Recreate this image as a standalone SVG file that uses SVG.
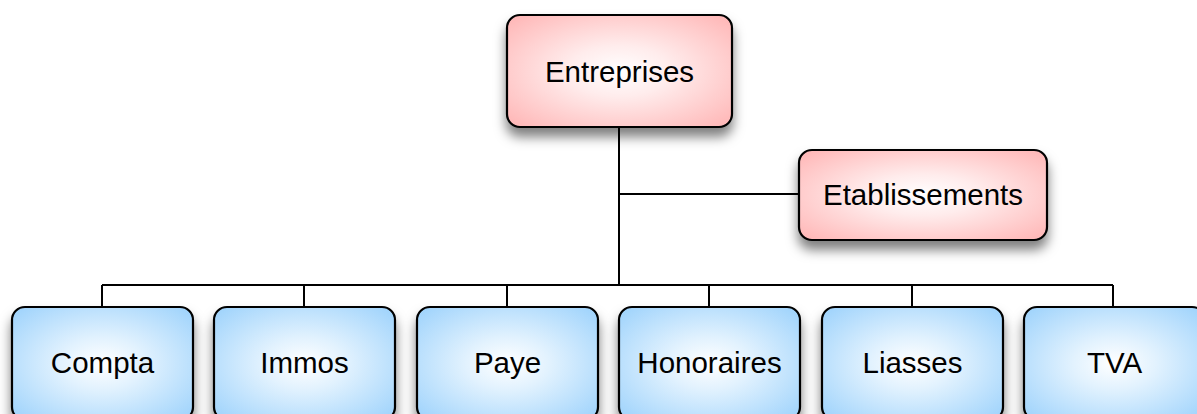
<svg xmlns="http://www.w3.org/2000/svg" width="1197" height="414" viewBox="0 0 1197 414">
<style>
.box{stroke:#000;stroke-width:2.2;filter:url(#sh)}
.pink{fill:url(#gp)}
.blue{fill:url(#gb)}
.lbl{font-family:"Liberation Sans",Arial,sans-serif;font-size:29.5px;fill:#000;text-anchor:middle}
.conn{stroke:#000;stroke-width:2;fill:none}
</style>
<defs>
<radialGradient id="gp" cx="0.5" cy="0.5" r="0.65">
<stop offset="0" stop-color="#ffffff"/>
<stop offset="0.35" stop-color="#ffecec"/>
<stop offset="1" stop-color="#ffbaba"/>
</radialGradient>
<radialGradient id="gb" cx="0.5" cy="0.5" r="0.65">
<stop offset="0" stop-color="#ffffff"/>
<stop offset="0.35" stop-color="#e2f2fe"/>
<stop offset="1" stop-color="#a3d5fc"/>
</radialGradient>
<filter id="sh" x="-20%" y="-20%" width="140%" height="160%">
<feDropShadow dx="0" dy="9" stdDeviation="6" flood-color="#000" flood-opacity="0.5"/>
</filter>
</defs>
<g id="connectors">
<path class="conn" d="M619 127V285M619 194H799M102 285H1113M102 285V307M304 285V307M507 285V307M709 285V307M912 285V307M1113 285V307"/>
</g>
<g id="entreprises"><rect class="box pink" x="507" y="15" width="225" height="112" rx="13"/><text class="lbl" x="619.5" y="81.5">Entreprises</text></g>
<g id="etablissements"><rect class="box pink" x="799" y="150" width="248" height="90" rx="13"/><text class="lbl" x="923" y="204.5">Etablissements</text></g>
<g id="compta"><rect class="box blue" x="12" y="307" width="181" height="113" rx="13"/><text class="lbl" x="102.5" y="372.5">Compta</text></g>
<g id="immos"><rect class="box blue" x="214" y="307" width="181" height="113" rx="13"/><text class="lbl" x="304.5" y="372.5">Immos</text></g>
<g id="paye"><rect class="box blue" x="417" y="307" width="181" height="113" rx="13"/><text class="lbl" x="507.5" y="372.5">Paye</text></g>
<g id="honoraires"><rect class="box blue" x="619" y="307" width="181" height="113" rx="13"/><text class="lbl" x="709.5" y="372.5">Honoraires</text></g>
<g id="liasses"><rect class="box blue" x="822" y="307" width="181" height="113" rx="13"/><text class="lbl" x="912.5" y="372.5">Liasses</text></g>
<g id="tva"><rect class="box blue" x="1024" y="307" width="181" height="113" rx="13"/><text class="lbl" x="1114.5" y="372.5">TVA</text></g>
</svg>
